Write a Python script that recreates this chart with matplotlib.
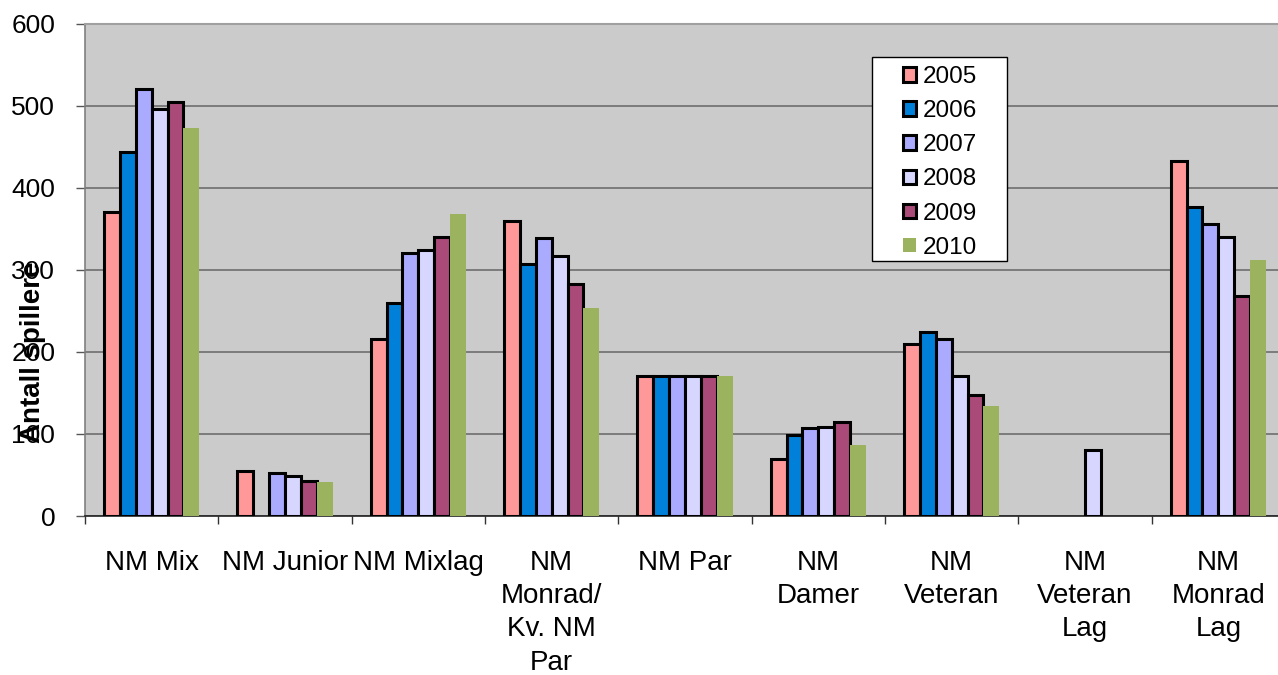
import matplotlib
matplotlib.use("Agg")
import matplotlib.pyplot as plt
import numpy as np
from matplotlib.patches import Patch, Rectangle

W, H = 1278, 675

CATEGORIES = [
    "NM Mix",
    "NM Junior",
    "NM Mixlag",
    "NM\nMonrad/\nKv. NM\nPar",
    "NM Par",
    "NM\nDamer",
    "NM\nVeteran",
    "NM\nVeteran\nLag",
    "NM\nMonrad\nLag",
]
YEARS = ["2005", "2006", "2007", "2008", "2009", "2010"]
V2005 = [370, 55, 216, 359, 171, 70, 210, 0, 432]
V2006 = [444, 0, 260, 307, 171, 99, 224, 0, 376]
V2007 = [520, 53, 320, 339, 171, 107, 216, 0, 356]
V2008 = [496, 49, 324, 317, 171, 109, 170, 80, 340]
V2009 = [504, 43, 340, 283, 171, 115, 148, 0, 268]
V2010 = [473, 42, 368, 254, 171, 87, 134, 0, 312]
Y_TICKS = [0, 100, 200, 300, 400, 500, 600]

COLORS = ["#FF9999", "#0080D8", "#AAAAFF", "#D6D6FF", "#AA4A78", "#9BB25F"]
EDGES = ["black", "black", "black", "black", "black", "none"]

plt.rcParams["font.family"] = ["Liberation Sans", "DejaVu Sans"]

fig = plt.figure(figsize=(W / 100, H / 100), dpi=100)
fig.patch.set_facecolor("white")
ax = fig.add_axes([85 / W, 1 - 516 / H, 1200 / W, 492.4 / H])
ax.set_facecolor("#CBCBCB")

series = [V2005, V2006, V2007, V2008, V2009, V2010]
x = np.arange(len(CATEGORIES))
bar_w = 0.119
for i, (vals, color, edge) in enumerate(zip(series, COLORS, EDGES)):
    vals = np.asarray(vals, dtype=float)
    offs = (i - 2.5) * bar_w
    keep = vals > 0  # empty categories get no bar at all
    ax.bar(x[keep] + offs, vals[keep], width=bar_w, color=color,
           edgecolor=edge, linewidth=2.2, zorder=3)

ax.set_xlim(-0.5, len(CATEGORIES) - 0.5)
ax.set_ylim(0, 600)
ax.set_yticks(Y_TICKS)
ax.set_yticklabels([str(v) for v in Y_TICKS], fontsize=19)
ax.yaxis.grid(True, color="#666666", linewidth=1.1, zorder=1)
ax.set_axisbelow(True)

# tick marks between groups, labels centred under groups
ax.set_xticks(np.arange(-0.5, len(CATEGORIES), 1.0))
ax.set_xticklabels([])
ax.set_xticks(x, minor=True)
ax.set_xticklabels(CATEGORIES, minor=True, fontsize=20, linespacing=1.36)
ax.tick_params(axis="x", which="major", length=6, width=1, color="#333333", direction="out")
ax.tick_params(axis="x", which="minor", length=0, pad=24.5)
ax.tick_params(axis="y", length=6.5, width=1, color="#555555", pad=15)

ax.spines["left"].set_color("#808080")
ax.spines["left"].set_linewidth(1.2)
ax.spines["bottom"].set_color("#222222")
ax.spines["bottom"].set_linewidth(1.2)
ax.spines["top"].set_color("#A0A0A0")
ax.spines["top"].set_linewidth(1.5)
ax.spines["right"].set_visible(False)

fig.text(33 / W, 1 - 352 / H, "Antall spillere", rotation=90, fontsize=20,
         fontweight="bold", ha="center", va="center")

# legend box drawn separately so the padding can be uneven like the original
fig.patches.append(Rectangle((872 / W, 1 - 261 / H), 135 / W, 204 / H,
                             transform=fig.transFigure, facecolor="white",
                             edgecolor="black", linewidth=1, zorder=4))
handles = [Patch(facecolor=c, edgecolor=e, linewidth=2.2) for c, e in zip(COLORS, EDGES)]
fig.legend(handles, YEARS, loc="upper left", bbox_to_anchor=(903 / W, 1 - 66 / H),
           frameon=False, borderpad=0, borderaxespad=0, fontsize=17.5,
           handlelength=0.55, handleheight=0.55, handletextpad=0.25,
           labelspacing=0.5)

fig.savefig("out.png", dpi=100)
